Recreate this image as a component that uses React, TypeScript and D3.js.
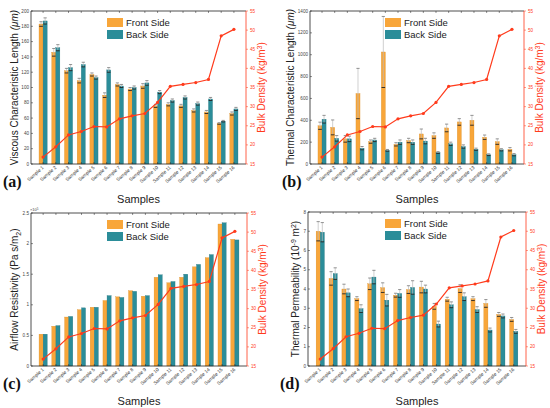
import { FC } from 'react';
import * as d3 from 'd3';

const samples = d3.range(1, 17).map((i) => `Sample ${i}`);
const bulkDensity = [16.8, 19.5, 22.6, 23.5, 24.8, 24.7, 26.8, 27.6, 28.2, 31.1, 35.3, 35.8, 36.3, 37.1, 48.5, 50.2];
const densityTicks = [15, 20, 25, 30, 35, 40, 45, 50, 55];

// (a) viscous characteristic length
const viscFront = [183, 146, 122, 109, 117, 90, 104, 98, 102, 76, 78, 76, 70, 68, 53, 66];
const viscBack = [187, 152, 126, 130, 113, 123, 102, 100, 106, 94, 83, 87, 79, 85, 56, 72];
const viscFrontErr = [3, 5, 3, 3, 2, 3, 2, 2, 3, 2, 2, 2, 2, 2, 1, 2];
const viscBackErr = [4, 4, 4, 3, 2, 3, 2, 2, 3, 2, 2, 2, 2, 2, 1, 2];
const viscTicks = [0, 20, 40, 60, 80, 100, 120, 140, 160, 180, 200];

// (b) thermal characteristic length
const thermFront = [350, 335, 230, 645, 205, 1025, 180, 215, 275, 260, 330, 385, 400, 245, 205, 135];
const thermBack = [410, 235, 230, 145, 220, 125, 200, 200, 210, 105, 185, 160, 135, 85, 130, 85];
const thermFrontErr = [33, 68, 30, 230, 15, 325, 15, 20, 45, 25, 35, 30, 45, 20, 25, 15];
const thermBackErr = [35, 25, 25, 15, 15, 8, 20, 20, 25, 8, 15, 15, 10, 8, 10, 10];
const thermTicks = [0, 200, 400, 600, 800, 1000, 1200, 1400];

// (c) airflow resistivity, x 10^5
const flowFront = [0.52, 0.65, 0.8, 0.92, 0.96, 1.07, 1.13, 1.23, 1.14, 1.45, 1.36, 1.45, 1.62, 1.77, 2.32, 2.07];
const flowBack = [0.52, 0.66, 0.81, 0.95, 0.96, 1.15, 1.12, 1.22, 1.15, 1.49, 1.38, 1.5, 1.66, 1.82, 2.34, 2.06];
const flowTicks = [0, 0.5, 1, 1.5, 2, 2.5];

// (d) thermal permeability
const permFront = [7.0, 4.55, 4.0, 3.5, 4.27, 4.07, 3.68, 3.97, 4.1, 3.1, 3.47, 4.02, 3.5, 3.25, 2.68, 2.42];
const permBack = [6.95, 4.8, 3.8, 2.98, 4.62, 3.42, 3.77, 4.08, 4.0, 2.18, 3.18, 3.6, 2.93, 1.87, 2.6, 1.8];
const permFrontErr = [0.5, 0.35, 0.25, 0.1, 0.3, 0.25, 0.1, 0.2, 0.3, 0.15, 0.1, 0.2, 0.1, 0.2, 0.1, 0.1];
const permBackErr = [0.5, 0.3, 0.2, 0.2, 0.35, 0.3, 0.2, 0.35, 0.2, 0.15, 0.15, 0.2, 0.15, 0.1, 0.1, 0.1];
const permTicks = [0, 1, 2, 3, 4, 5, 6, 7, 8];

const ORANGE = '#f8a63a';
const TEAL = '#2b8d99';
const RED = '#ff3b1c';
const FONT = 'Arial, "Liberation Sans", sans-serif';

interface PanelProps {
  box: { x0: number; x1: number; y0: number; y1: number };
  front: number[];
  back: number[];
  frontErr?: number[];
  backErr?: number[];
  ticks: number[];
  yLabel: React.ReactNode;
  yLabelX: number;
  rightLabelX: number;
  letter: string;
  legendX: number;
  multiplier?: boolean;
}

const Panel: FC<PanelProps> = ({ box, front, back, frontErr, backErr, ticks, yLabel, yLabelX, rightLabelX, letter, legendX, multiplier }) => {
  const { x0, x1, y0, y1 } = box;
  const x = d3.scaleBand<string>().domain(samples).range([x0, x1]).paddingInner(0).paddingOuter(0.45);
  const y = d3.scaleLinear().domain([ticks[0], ticks[ticks.length - 1]]).range([y1, y0]);
  const yR = d3.scaleLinear().domain([15, 55]).range([y1, y0]);
  const bw = x.step() * 0.32;
  const cx = (s: string) => (x(s) as number) + x.bandwidth() / 2;
  const line = d3.line<number>().x((_, i) => cx(samples[i])).y((d) => yR(d));
  const midY = (y0 + y1) / 2;

  const errBar = (xc: number, v: number, e: number, key: string) => (
    <g key={key}>
      <line x1={xc} x2={xc} y1={y(v - e)} y2={y(v + e)} stroke="#bbb" strokeWidth={0.7} />
      <line x1={xc - 1.6} x2={xc + 1.6} y1={y(v + e)} y2={y(v + e)} stroke="#777" strokeWidth={0.8} />
      <line x1={xc - 1.8} x2={xc + 1.8} y1={y(v - e)} y2={y(v - e)} stroke="#222" strokeWidth={0.9} />
    </g>
  );

  return (
    <g fontFamily={FONT}>
      {samples.map((s, i) => {
        const c = cx(s);
        return (
          <g key={s}>
            <rect x={c - bw} y={y(front[i])} width={bw} height={y1 - y(front[i])} fill={ORANGE} stroke="#d88a22" strokeWidth={0.3} />
            <rect x={c} y={y(back[i])} width={bw} height={y1 - y(back[i])} fill={TEAL} stroke="#1f6f78" strokeWidth={0.3} />
            {frontErr && errBar(c - bw / 2, front[i], frontErr[i], 'fe')}
            {backErr && errBar(c + bw / 2, back[i], backErr[i], 'be')}
          </g>
        );
      })}
      <path d={line(bulkDensity) ?? ''} fill="none" stroke={RED} strokeWidth={1.2} />
      {bulkDensity.map((d, i) => (
        <circle key={i} cx={cx(samples[i])} cy={yR(d)} r={1.6} fill={RED} />
      ))}

      {/* frame */}
      <line x1={x0} x2={x1} y1={y0} y2={y0} stroke="#222" strokeWidth={0.8} />
      <line x1={x0} x2={x1} y1={y1} y2={y1} stroke="#222" strokeWidth={0.8} />
      <line x1={x0} x2={x0} y1={y0} y2={y1} stroke="#222" strokeWidth={0.8} />
      <line x1={x1} x2={x1} y1={y0} y2={y1} stroke={RED} strokeWidth={0.8} />

      {samples.map((s) => (
        <g key={s}>
          <line x1={cx(s)} x2={cx(s)} y1={y0} y2={y0 + 2} stroke="#222" strokeWidth={0.5} />
          <line x1={cx(s)} x2={cx(s)} y1={y1} y2={y1 - 2} stroke="#222" strokeWidth={0.5} />
          <text
            transform={`translate(${cx(s) + 1},${y1 + 4}) rotate(-42)`}
            textAnchor="end"
            fontSize={4.8}
            fill="#333"
          >
            {s}
          </text>
        </g>
      ))}

      {ticks.map((t) => (
        <g key={t}>
          <line x1={x0} x2={x0 + 2} y1={y(t)} y2={y(t)} stroke="#222" strokeWidth={0.5} />
          <text x={x0 - 2} y={y(t) + 1.6} textAnchor="end" fontSize={4.6} fill="#444">
            {t}
          </text>
        </g>
      ))}
      {multiplier && (
        <text x={x0 - 1} y={y0 - 2} fontSize={4} fill="#444">
          ×10<tspan dy={-1.5} fontSize={3}>5</tspan>
        </text>
      )}

      {densityTicks.map((t) => (
        <g key={t}>
          <line x1={x1} x2={x1 + 2} y1={yR(t)} y2={yR(t)} stroke={RED} strokeWidth={0.5} />
          <text x={x1 + 4} y={yR(t) + 1.6} fontSize={4.6} fill={RED}>
            {t}
          </text>
        </g>
      ))}

      <text transform={`translate(${yLabelX},${midY}) rotate(-90)`} textAnchor="middle" fontSize={10} fill="#222">
        {yLabel}
      </text>
      <text transform={`translate(${rightLabelX},${midY}) rotate(-90)`} textAnchor="middle" fontSize={10} fill={RED}>
        Bulk Density (kg/m<tspan dy={-3.5} fontSize={7}>3</tspan>
        <tspan dy={3.5}>)</tspan>
      </text>

      <text x={(x0 + x1) / 2} y={y1 + 39} textAnchor="middle" fontSize={11} fill="#222">
        Samples
      </text>
      <text x={x0 - 28} y={y1 + 23} fontSize={16} fontWeight="bold" fontFamily='"Liberation Serif", "Times New Roman", serif' fill="#111">
        {letter}
      </text>

      <rect x={legendX} y={y0 + 7} width={16} height={9} fill={ORANGE} />
      <rect x={legendX} y={y0 + 19} width={16} height={9} fill={TEAL} />
      <text x={legendX + 19} y={y0 + 15} fontSize={9.5} fill="#222">Front Side</text>
      <text x={legendX + 19} y={y0 + 27} fontSize={9.5} fill="#222">Back Side</text>
    </g>
  );
};

const App: FC = () => {
  return (
    <div style={{ position: 'absolute', left: 0, top: 0 }}>
      <svg width={550} height={408} style={{ display: 'block', background: '#fff' }}>
        <Panel
          box={{ x0: 31, x1: 246, y0: 11, y1: 164 }}
          front={viscFront}
          back={viscBack}
          frontErr={viscFrontErr}
          backErr={viscBackErr}
          ticks={viscTicks}
          yLabel={<>Viscous Characteristic Length <tspan fontStyle="italic">(μm)</tspan></>}
          yLabelX={18}
          rightLabelX={265}
          letter="(a)"
          legendX={107}
        />
        <Panel
          box={{ x0: 310, x1: 524, y0: 11, y1: 164 }}
          front={thermFront}
          back={thermBack}
          frontErr={thermFrontErr}
          backErr={thermBackErr}
          ticks={thermTicks}
          yLabel={<>Thermal Characteristic Length <tspan fontStyle="italic">(μm)</tspan></>}
          yLabelX={294}
          rightLabelX={543}
          letter="(b)"
          legendX={385}
        />
        <Panel
          box={{ x0: 31, x1: 247, y0: 213, y1: 366 }}
          front={flowFront}
          back={flowBack}
          ticks={flowTicks}
          yLabel={<>Airflow Resistivity (Pa s/m<tspan dy={3} fontSize={7}>2</tspan><tspan dy={-3}>)</tspan></>}
          yLabelX={18}
          rightLabelX={266}
          letter="(c)"
          legendX={107}
          multiplier
        />
        <Panel
          box={{ x0: 308, x1: 526, y0: 212, y1: 366 }}
          front={permFront}
          back={permBack}
          frontErr={permFrontErr}
          backErr={permBackErr}
          ticks={permTicks}
          yLabel={<>Thermal Permeability (10<tspan dy={-3.5} fontSize={7}>-9</tspan><tspan dy={3.5}> m</tspan><tspan dy={-3.5} fontSize={7}>2</tspan><tspan dy={3.5}>)</tspan></>}
          yLabelX={299}
          rightLabelX={545}
          letter="(d)"
          legendX={385}
        />
      </svg>
    </div>
  );
};

export default App;
